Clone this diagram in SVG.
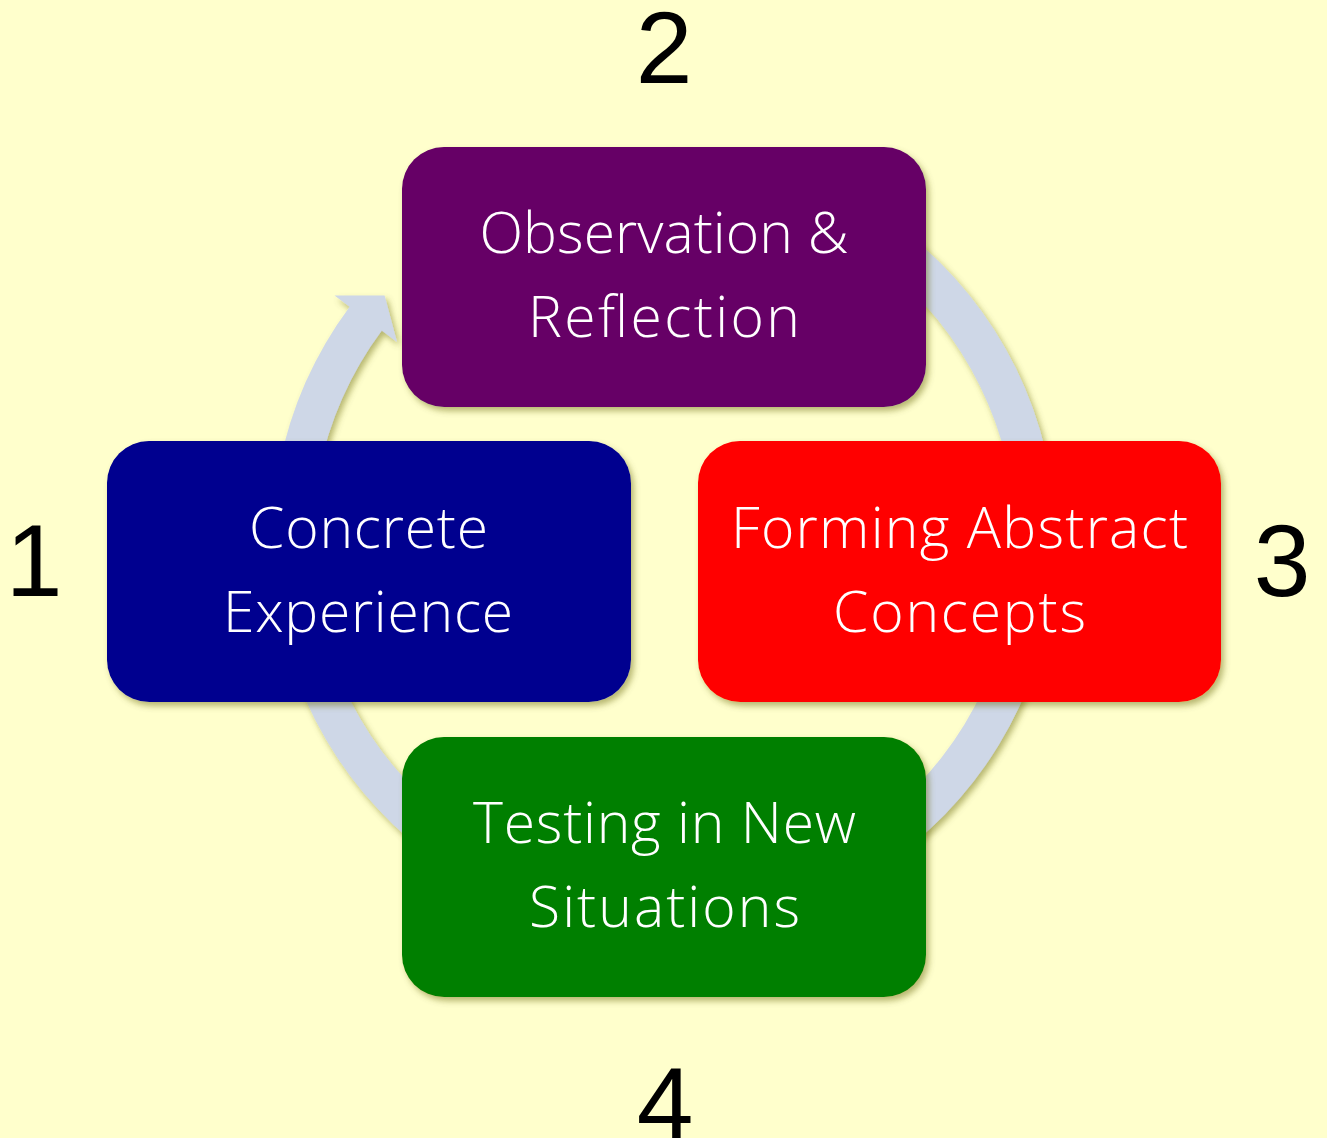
<svg xmlns="http://www.w3.org/2000/svg" width="1327" height="1138" viewBox="0 0 1327 1138">
<defs>
<filter id="sh" x="-10%" y="-10%" width="130%" height="130%">
<feDropShadow dx="3" dy="4" stdDeviation="3" flood-color="#5e5e10" flood-opacity="0.45"/>
</filter>
</defs>
<style>
.lbl{font-family:"Open Sans","Liberation Sans",sans-serif;font-weight:300;font-size:57px;fill:#ffffff;text-anchor:middle}
.num{font-family:"Liberation Sans",Arial,sans-serif;font-size:102px;fill:#000000;text-anchor:middle}
.box{filter:url(#sh)}
</style>
<rect x="0" y="0" width="1327" height="1138" fill="#FFFFCC"/>
<g id="connectors">
<path filter="url(#sh)" fill="#CED7E7" d="M664,149 A392,392 0 1 1 349.7,306.7 L334.5,295.4 L384.6,295.4 L397.0,342.0 L381.8,330.6 A352,352 0 1 0 664,189 Z"/>
</g>
<g id="node-observation">
<rect class="box" x="402" y="147" width="524" height="260" rx="42" ry="42" fill="#660066"/>
<text class="lbl" x="664" y="253" textLength="369" lengthAdjust="spacing">Observation &amp;</text>
<text class="lbl" x="664" y="337" textLength="272" lengthAdjust="spacing">Reflection</text>
</g>
<g id="node-concrete">
<rect class="box" x="107" y="441" width="524" height="261" rx="42" ry="42" fill="#00008F"/>
<text class="lbl" x="368.5" y="548" textLength="239" lengthAdjust="spacing">Concrete</text>
<text class="lbl" x="368" y="632" textLength="290" lengthAdjust="spacing">Experience</text>
</g>
<g id="node-abstract">
<rect class="box" x="698" y="441" width="523" height="261" rx="42" ry="42" fill="#FF0000"/>
<text class="lbl" x="959.5" y="548" textLength="457" lengthAdjust="spacing">Forming Abstract</text>
<text class="lbl" x="959.5" y="632" textLength="253" lengthAdjust="spacing">Concepts</text>
</g>
<g id="node-testing">
<rect class="box" x="402" y="737" width="524" height="260" rx="42" ry="42" fill="#007F00"/>
<text class="lbl" x="664.5" y="843" textLength="383" lengthAdjust="spacing">Testing in New</text>
<text class="lbl" x="664.5" y="927" textLength="271" lengthAdjust="spacing">Situations</text>
</g>
<g id="numbers">
<text class="num" x="34" y="596">1</text>
<text class="num" x="664" y="83">2</text>
<text class="num" x="1282" y="596">3</text>
<text class="num" x="665" y="1139">4</text>
</g>
</svg>
